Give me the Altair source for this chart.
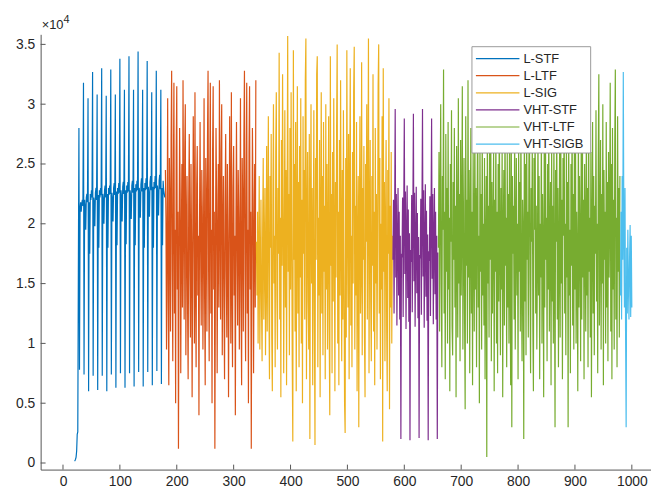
import altair as alt
import pandas as pd

# ---------------- data (values in units of 1e4) ----------------
SEGMENTS = ["L-STF", "L-LTF", "L-SIG", "VHT-STF", "VHT-LTF", "VHT-SIGB"]
COLORS = ["#0072BD", "#D95319", "#EDB120", "#7E2F8E", "#77AC30", "#4DBEEE"]
STARTS = [20, 180, 340, 580, 660, 980]

L_STF = [
    0.02, 0.02, 0.03, 0.05, 0.10, 0.24, 0.26, 1.60,
    2.80, 0.78, 2.12, 2.18, 2.10, 2.17, 2.20, 2.15,
    3.18, 0.74, 2.20, 2.14, 1.95, 2.22, 2.25, 2.18,
    3.05, 0.60, 2.18, 1.75, 2.25, 2.20, 2.28, 2.22,
    3.27, 0.73, 2.22, 2.18, 1.98, 2.26, 2.30, 2.20,
    3.08, 0.61, 2.24, 1.80, 2.28, 2.22, 2.30, 2.24,
    3.30, 0.73, 2.25, 2.20, 2.00, 2.28, 2.32, 2.22,
    3.07, 0.60, 2.25, 1.80, 2.30, 2.24, 2.32, 2.25,
    3.29, 0.74, 2.26, 2.20, 2.02, 2.30, 2.34, 2.24,
    3.08, 0.63, 2.27, 1.82, 2.30, 2.25, 2.34, 2.26,
    3.38, 0.75, 2.28, 2.22, 2.02, 2.31, 2.35, 2.25,
    3.12, 0.63, 2.28, 1.83, 2.32, 2.26, 2.35, 2.27,
    3.40, 0.75, 2.28, 2.22, 2.04, 2.32, 2.36, 2.26,
    3.12, 0.64, 2.30, 1.82, 2.33, 2.27, 2.36, 2.28,
    3.44, 0.76, 2.30, 2.24, 2.05, 2.33, 2.38, 2.27,
    3.12, 0.64, 2.30, 1.80, 2.34, 2.28, 2.38, 2.29,
    3.36, 0.76, 2.31, 2.24, 2.06, 2.35, 2.40, 2.28,
    3.10, 0.65, 2.31, 1.80, 2.35, 2.29, 2.40, 2.30,
    3.28, 0.77, 2.32, 2.25, 2.07, 2.36, 2.41, 2.29,
    3.12, 0.66, 2.30, 1.82, 2.36, 2.28, 2.25, 2.22,
]

L_LTF = [
    2.45, 2.05, 0.95, 1.80, 3.05, 1.35, 0.65, 2.55, 2.15, 1.10, 2.70, 3.28, 1.60, 0.85, 2.35, 3.18,
    1.25, 1.95, 0.50, 2.60, 3.15, 1.45, 2.10, 0.12, 1.65, 2.80, 2.25, 0.75, 1.85, 2.50, 1.30, 3.20,
    2.10, 1.20, 2.60, 3.00, 0.90, 1.90, 2.40, 1.30, 0.70, 2.20, 2.75, 1.60, 1.05, 2.50, 1.85, 0.55,
    1.70, 2.90, 2.20, 1.00, 3.10, 1.50, 0.80, 2.30, 2.65, 1.40, 1.90, 0.40, 2.00, 2.85, 1.75, 1.15,
    2.45, 2.05, 0.95, 1.80, 3.05, 1.35, 0.65, 2.55, 2.15, 1.10, 2.70, 3.28, 1.60, 0.85, 2.35, 3.18,
    1.25, 1.95, 0.50, 2.60, 3.15, 1.45, 2.10, 0.12, 1.65, 2.80, 2.25, 0.75, 1.85, 2.50, 1.30, 3.20,
    2.10, 1.20, 2.60, 3.00, 0.90, 1.90, 2.40, 1.30, 0.70, 2.20, 2.75, 1.60, 1.05, 2.50, 1.85, 0.55,
    1.70, 2.90, 2.20, 1.00, 3.10, 1.50, 0.80, 2.30, 2.65, 1.40, 1.90, 0.40, 2.00, 2.85, 1.75, 1.15,
    2.45, 2.05, 0.95, 1.80, 3.05, 1.35, 0.65, 2.55, 2.15, 1.10, 2.70, 3.28, 1.60, 0.85, 2.35, 3.18,
    1.25, 1.95, 0.50, 2.60, 3.15, 1.45, 2.10, 0.12, 1.65, 2.80, 2.25, 0.75, 1.85, 2.50, 1.30, 3.20,
]

L_SIG = [
    1.85, 1.40, 2.10, 1.00, 1.75, 2.40, 0.95, 1.60, 2.20, 1.30, 0.85, 1.95, 2.55, 1.20, 1.70, 2.30, 0.90, 1.50, 2.65, 1.10,
    2.00, 2.90, 1.30, 0.70, 2.40, 1.80, 2.75, 1.05, 0.60, 2.20, 3.00, 1.50, 1.90, 0.80, 2.60, 3.10, 1.40, 0.95, 2.30, 1.75,
    3.43, 1.20, 2.05, 0.55, 2.70, 1.65, 3.25, 2.10, 0.75, 1.85, 2.95, 1.30, 2.45, 0.65, 2.15, 3.57, 1.60, 2.25, 0.90, 2.80,
    1.45, 3.10, 2.00, 0.85, 0.18, 3.45, 1.70, 2.50, 1.10, 2.85, 0.60, 1.95, 3.15, 1.25, 2.35, 0.80, 2.65, 1.55, 3.05, 1.00,
    2.20, 0.50, 2.90, 1.75, 2.45, 1.20, 3.20, 3.55, 0.70, 1.90, 2.60, 1.35, 0.95, 2.75, 0.20, 2.10, 3.00, 1.50, 2.30, 0.65,
    1.85, 2.95, 1.15, 0.15, 2.55, 1.70, 3.25, 3.40, 0.80, 2.05, 1.40, 2.70, 0.55, 1.95, 3.10, 1.25, 2.40, 0.90, 2.85, 1.60,
    2.15, 0.70, 3.00, 1.45, 2.50, 0.95, 1.80, 2.90, 1.10, 0.40, 3.40, 1.65, 2.25, 0.75, 2.60, 1.35, 3.05, 1.90, 0.60, 2.35,
    1.55, 2.80, 3.50, 1.00, 2.10, 0.65, 2.70, 1.40, 3.20, 1.85, 0.85, 2.45, 1.20, 2.95, 1.60, 0.50, 0.25, 2.55, 1.05, 3.45,
    2.00, 1.30, 2.75, 0.70, 2.25, 3.30, 1.15, 1.90, 0.80, 2.60, 1.50, 3.10, 3.48, 0.95, 2.15, 1.40, 2.85, 0.60, 1.75, 2.40,
    0.30, 2.05, 2.90, 1.25, 1.60, 3.35, 0.90, 2.30, 1.70, 2.65, 1.05, 0.55, 2.50, 1.85, 3.00, 1.20, 2.20, 3.55, 0.75, 1.95,
    2.70, 1.35, 0.85, 2.40, 1.65, 3.25, 1.10, 2.10, 0.65, 2.80, 1.50, 2.25, 0.95, 1.80, 3.15, 3.50, 1.25, 2.55, 0.70, 2.00,
    1.45, 2.90, 0.18, 3.30, 1.60, 2.35, 0.85, 1.95, 2.70, 1.15, 0.60, 2.45, 1.75, 3.05, 0.45, 2.15, 1.30, 2.60, 1.00, 1.90,
]

VHT_STF = [
    1.70, 2.20, 1.25, 2.05, 2.96, 1.55, 2.25, 1.15, 1.85, 2.30, 1.40, 2.10, 1.20, 1.90, 0.20, 1.75,
    1.72, 2.22, 1.22, 2.08, 2.88, 1.58, 2.27, 1.12, 1.88, 2.32, 1.38, 2.12, 1.18, 1.92, 0.19, 1.78,
    1.68, 2.24, 1.26, 2.04, 2.92, 1.52, 2.26, 1.14, 1.86, 2.31, 1.42, 2.09, 1.21, 1.89, 0.21, 1.74,
    1.71, 2.21, 1.24, 2.07, 2.96, 1.56, 2.28, 1.13, 1.84, 2.33, 1.39, 2.11, 1.19, 1.91, 0.19, 1.77,
    1.69, 2.23, 1.23, 2.06, 2.88, 1.54, 2.25, 1.16, 1.87, 2.30, 1.41, 2.10, 1.20, 1.90, 0.20, 1.76,
]

VHT_LTF = [
    1.80, 2.60, 1.10, 2.20, 3.00, 1.50, 0.80, 2.40, 1.95, 3.29, 1.25, 2.10, 0.70, 2.75, 1.60, 2.30, 1.00, 2.85, 1.45, 2.05,
    0.60, 2.50, 1.85, 2.95, 1.15, 0.90, 2.35, 1.70, 2.80, 1.30, 2.15, 0.55, 2.65, 1.90, 1.05, 3.05, 1.50, 2.25, 0.85, 2.70,
    1.40, 2.00, 3.15, 0.95, 1.75, 2.55, 1.20, 0.45, 2.90, 1.65, 2.20, 1.00, 3.20, 1.55, 2.45, 0.75, 1.95, 2.80, 1.25, 2.10,
    0.65, 2.60, 1.85, 1.10, 2.95, 1.45, 2.30, 0.80, 2.05, 3.10, 1.30, 1.90, 0.50, 2.70, 1.60, 2.25, 0.95, 2.85, 1.40, 2.00,
    1.15, 2.55, 0.70, 1.80, 2.40, 0.05, 2.90, 1.50, 2.15, 1.05, 2.75, 1.70, 3.00, 0.85, 2.35, 1.25, 1.95, 2.60, 0.60, 2.20,
    1.60, 2.85, 1.00, 2.10, 0.75, 2.50, 1.35, 3.05, 1.80, 0.90, 2.30, 1.45, 2.70, 0.55, 1.90, 2.45, 1.15, 2.95, 1.65, 2.05,
    0.80, 2.60, 1.30, 2.25, 1.00, 2.80, 1.55, 0.65, 3.10, 0.30, 2.40, 1.75, 2.15, 1.20, 2.90, 0.95, 1.85, 2.55, 1.40, 2.00,
    0.70, 2.65, 1.60, 2.35, 1.10, 2.95, 1.45, 0.85, 2.20, 1.90, 0.20, 2.75, 1.35, 2.50, 0.90, 3.00, 1.70, 2.10, 1.05, 2.45,
    3.05, 1.50, 0.75, 2.30, 1.85, 2.70, 1.15, 0.60, 2.55, 1.95, 2.90, 1.25, 2.15, 0.95, 1.65, 2.80, 1.40, 2.40, 0.70, 2.00,
    1.55, 2.85, 1.00, 2.25, 1.80, 0.55, 2.65, 1.30, 3.10, 1.70, 2.05, 0.85, 2.50, 1.45, 2.95, 1.10, 1.90, 2.35, 0.65, 2.70,
    1.35, 2.15, 1.00, 2.80, 1.60, 0.30, 2.45, 1.85, 2.95, 1.20, 2.30, 0.80, 1.75, 2.60, 1.05, 3.00, 1.50, 2.20, 0.70, 2.55,
    1.90, 3.10, 1.25, 2.00, 0.90, 2.70, 1.55, 2.35, 0.30, 2.85, 1.40, 1.95, 0.75, 2.50, 1.65, 3.05, 1.15, 2.25, 0.95, 2.60,
    1.45, 2.80, 1.00, 2.10, 1.70, 0.60, 2.90, 1.30, 2.40, 1.85, 0.85, 2.65, 1.20, 3.00, 1.55, 2.20, 0.70, 2.50, 1.95, 1.10,
    2.75, 1.40, 2.30, 0.80, 3.10, 1.60, 2.05, 1.05, 2.60, 0.55, 1.90, 2.85, 1.25, 2.40, 0.90, 2.15, 1.75, 2.95, 1.35, 2.00,
    0.75, 2.55, 3.25, 1.15, 1.85, 2.70, 0.95, 2.25, 1.50, 3.00, 0.65, 2.45, 1.70, 2.10, 1.00, 2.85, 1.30, 2.35, 0.85, 2.60,
    1.55, 2.00, 3.18, 1.10, 2.50, 0.70, 2.80, 1.45, 2.20, 0.95, 2.65, 3.29, 1.20, 2.05, 0.80, 2.90, 1.60, 2.30, 1.05, 2.40,
]

VHT_SIGB = [1.40, 2.10, 1.20, 2.40, 1.70, 3.27, 1.90, 1.30, 2.30, 1.10, 0.30,
            1.80, 1.25, 1.95, 1.50, 1.20, 1.70, 1.99, 1.22, 1.90, 1.30]

X_TICKS = [0, 100, 200, 300, 400, 500, 600, 700, 800, 900, 1000]
Y_TICKS = [0, 0.5, 1, 1.5, 2, 2.5, 3, 3.5]

# ---------------- build table ----------------
rows = []
for name, start, vals in zip(SEGMENTS, STARTS,
                             [L_STF, L_LTF, L_SIG, VHT_STF, VHT_LTF, VHT_SIGB]):
    for i, v in enumerate(vals):
        rows.append({"x": start + i, "y": v, "seg": name})
df = pd.DataFrame(rows)

W, H = 617, 440
X_DOM = [-39.3, 1033.7]
Y_DOM = [-0.055, 3.584]
FONT = "Liberation Sans"
AXC = "#555555"
TXT = "#262626"

color_scale = alt.Scale(domain=SEGMENTS, range=COLORS)
xs = alt.Scale(domain=X_DOM, nice=False, zero=False)
ys = alt.Scale(domain=Y_DOM, nice=False, zero=False)
XAX = alt.Axis(values=X_TICKS, title=None, grid=False, ticks=False, labelPadding=5, format="d")
YAX = alt.Axis(values=Y_TICKS, title=None, grid=False, ticks=False, labelPadding=6, format="~g")

lines = alt.Chart(df).mark_line(strokeWidth=1.2, clip=True).encode(
    x=alt.X("x:Q", scale=xs, axis=XAX),
    y=alt.Y("y:Q", scale=ys, axis=YAX),
    color=alt.Color("seg:N", scale=color_scale, legend=None),
    detail="seg:N",
)

xtick = alt.Chart(pd.DataFrame({"x": X_TICKS})).mark_rule(color=AXC, strokeWidth=1).encode(
    x=alt.X("x:Q", scale=xs, axis=XAX),
    y=alt.value(H), y2=alt.value(H - 5),
)
ytick = alt.Chart(pd.DataFrame({"y": Y_TICKS})).mark_rule(color=AXC, strokeWidth=1).encode(
    y=alt.Y("y:Q", scale=ys, axis=YAX),
    x=alt.value(0), x2=alt.value(5),
)

# legend (manual, MATLAB style)
LEG_X0, LEG_X1, LEG_Y0, LEG_Y1 = 436, 556, 12.5, 120
leg_df = pd.DataFrame({"seg": SEGMENTS,
                       "ly": [24.5 + 17.3 * i for i in range(len(SEGMENTS))]})
box = alt.Chart(pd.DataFrame({"a": [0]})).mark_rect(
    fill="white", stroke="#9a9a9a", strokeWidth=1).encode(
    x=alt.value(LEG_X0), x2=alt.value(LEG_X1), y=alt.value(LEG_Y0), y2=alt.value(LEG_Y1))
leg_lines = alt.Chart(leg_df).mark_rule(strokeWidth=1.2).encode(
    x=alt.value(440), x2=alt.value(484),
    y=alt.Y("ly:Q", scale=None),
    color=alt.Color("seg:N", scale=color_scale, legend=None),
)
leg_text = alt.Chart(leg_df).mark_text(
    align="left", baseline="middle", font=FONT, fontSize=13, color=TXT).encode(
    x=alt.value(488), y=alt.Y("ly:Q", scale=None), text="seg:N")

# x10^4 exponent label
exp_base = alt.Chart(pd.DataFrame({"t": ["\u00d710"]})).mark_text(
    align="left", baseline="middle", font=FONT, fontSize=13, color=TXT).encode(
    x=alt.value(1), y=alt.value(-9), text="t:N")
exp_sup = alt.Chart(pd.DataFrame({"t": ["4"]})).mark_text(
    align="left", baseline="middle", font=FONT, fontSize=11, color=TXT).encode(
    x=alt.value(23), y=alt.value(-14), text="t:N")

chart = alt.layer(lines, xtick, ytick, box, leg_lines, leg_text, exp_base, exp_sup).properties(
    width=W, height=H,
    autosize=alt.AutoSizeParams(type="none"),
    padding={"left": 33, "top": 24, "right": 0, "bottom": 17},
).configure_view(stroke=None).configure_axis(
    domainColor=AXC, domainWidth=1, labelColor=TXT, labelFont=FONT, labelFontSize=14,
)

chart.save("out.html", embed_options={"renderer": "svg", "actions": False})
